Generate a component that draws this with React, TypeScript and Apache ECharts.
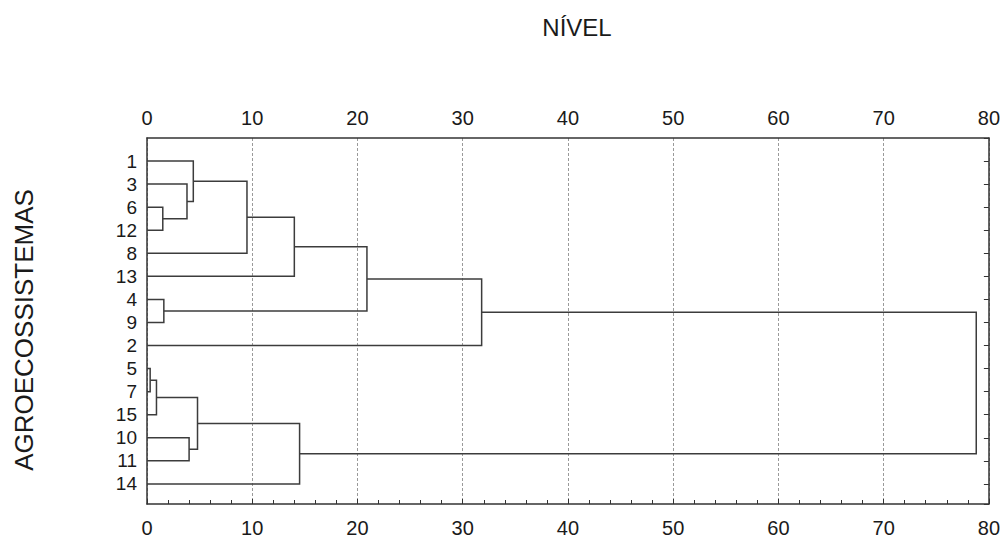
import React, { useEffect, useRef } from "react";
import * as echarts from "echarts";

// Leaves, top to bottom
const leaves = ["1", "3", "6", "12", "8", "13", "4", "9", "2", "5", "7", "15", "10", "11", "14"];

// Merge steps: node "nK" is created by step K (joining mergeLeft[K] and mergeRight[K] at mergeHeights[K])
const mergeLeft = ["6", "3", "1", "n2", "n3", "4", "n4", "n6", "5", "n8", "10", "n9", "n11", "n7"];
const mergeRight = ["12", "n0", "n1", "8", "13", "9", "n5", "2", "7", "15", "11", "n10", "14", "n12"];
const mergeHeights = [1.5, 3.8, 4.4, 9.5, 14.0, 1.6, 20.9, 31.8, 0.3, 0.9, 4.0, 4.8, 14.5, 78.8];

// Axis ticks (NÍVEL)
const levelTicks = [0, 10, 20, 30, 40, 50, 60, 70, 80];

const FONT = "'Liberation Sans', Arial, Helvetica, sans-serif";

function buildSegments() {
  const pos: Record<string, { y: number; h: number }> = {};
  leaves.forEach((l, i) => (pos[l] = { y: i, h: 0 }));
  const data: number[][] = [];
  mergeHeights.forEach((h, k) => {
    const a = pos[mergeLeft[k]];
    const b = pos[mergeRight[k]];
    data.push([h, a.y, b.y, a.h, b.h]);
    pos["n" + k] = { y: (a.y + b.y) / 2, h };
  });
  return data;
}

export default function App() {
  const ref = useRef<HTMLDivElement>(null);
  useEffect(() => {
    if (!ref.current) return;
    const chart = echarts.init(ref.current, undefined, { renderer: "svg" });
    const xMin = levelTicks[0];
    const xMax = levelTicks[levelTicks.length - 1];
    const xInterval = levelTicks[1] - levelTicks[0];
    const yMin = -1;
    const yMax = leaves.length - 1 + 0.87;
    const leafFormatter = (v: number) => {
      const r = Math.round(v);
      if (Math.abs(v - r) < 1e-6 && r >= 0 && r < leaves.length) return leaves[r];
      return "";
    };
    const axisLine = { show: true, onZero: false, lineStyle: { color: "#333", width: 1.5 } };
    const option: any = {
      animation: false,
      backgroundColor: "#ffffff",
      textStyle: { fontFamily: FONT },
      grid: { left: 147, right: 14, top: 138, bottom: 34, containLabel: false },
      xAxis: [
        {
          type: "value",
          position: "bottom",
          min: xMin,
          max: xMax,
          interval: xInterval,
          axisLine,
          axisTick: { show: true, inside: true, length: 5, lineStyle: { color: "#333" } },
          minorTick: { show: true, splitNumber: 5, length: 4, lineStyle: { color: "#333" } },
          axisLabel: { fontSize: 20, color: "#1a1a1a", margin: 14, fontFamily: FONT },
          splitLine: { show: true, lineStyle: { color: "#9a9a9a", width: 1, type: [3, 2] } },
        },
        {
          type: "value",
          position: "top",
          min: xMin,
          max: xMax,
          interval: xInterval,
          axisLine,
          axisTick: { show: false },
          axisLabel: { fontSize: 20, color: "#1a1a1a", margin: 10, fontFamily: FONT },
          splitLine: { show: false },
        },
      ],
      yAxis: [
        {
          type: "value",
          position: "left",
          inverse: true,
          min: yMin,
          max: yMax,
          interval: 1,
          axisLine,
          axisTick: { show: false },
          axisLabel: { fontSize: 19, color: "#1a1a1a", margin: 10, fontFamily: FONT, formatter: leafFormatter },
          splitLine: { show: false },
        },
        {
          type: "value",
          position: "right",
          inverse: true,
          min: yMin,
          max: yMax,
          interval: 1,
          axisLine,
          axisTick: { show: true, inside: true, length: 5, lineStyle: { color: "#333" } },
          axisLabel: { show: false },
          splitLine: { show: false },
        },
      ],
      series: [
        {
          type: "custom",
          xAxisIndex: 0,
          yAxisIndex: 0,
          clip: false,
          data: buildSegments(),
          renderItem: (params: any, api: any) => {
            const h = api.value(0);
            const ya = api.value(1);
            const yb = api.value(2);
            const ha = api.value(3);
            const hb = api.value(4);
            const pts = [
              api.coord([ha, ya]),
              api.coord([h, ya]),
              api.coord([h, yb]),
              api.coord([hb, yb]),
            ];
            return {
              type: "polyline",
              shape: { points: pts },
              style: { stroke: "#3c3c3c", lineWidth: 1.5, fill: "none" },
            };
          },
        },
      ],
      graphic: [
        {
          type: "text",
          x: 577,
          y: 27,
          style: {
            text: "NÍVEL",
            fontSize: 24,
            fontFamily: FONT,
            fill: "#1a1a1a",
            textAlign: "center",
            textVerticalAlign: "middle",
          },
        },
        {
          type: "text",
          x: 24,
          y: 330,
          rotation: Math.PI / 2,
          style: {
            text: "AGROECOSSISTEMAS",
            fontSize: 26,
            fontFamily: FONT,
            fill: "#1a1a1a",
            textAlign: "center",
            textVerticalAlign: "middle",
          },
        },
      ],
    };
    chart.setOption(option);
    return () => chart.dispose();
  }, []);
  return (
    <div
      ref={ref}
      style={{ position: "absolute", left: 0, top: 0, width: 1003, height: 538, background: "#fff" }}
    />
  );
}
